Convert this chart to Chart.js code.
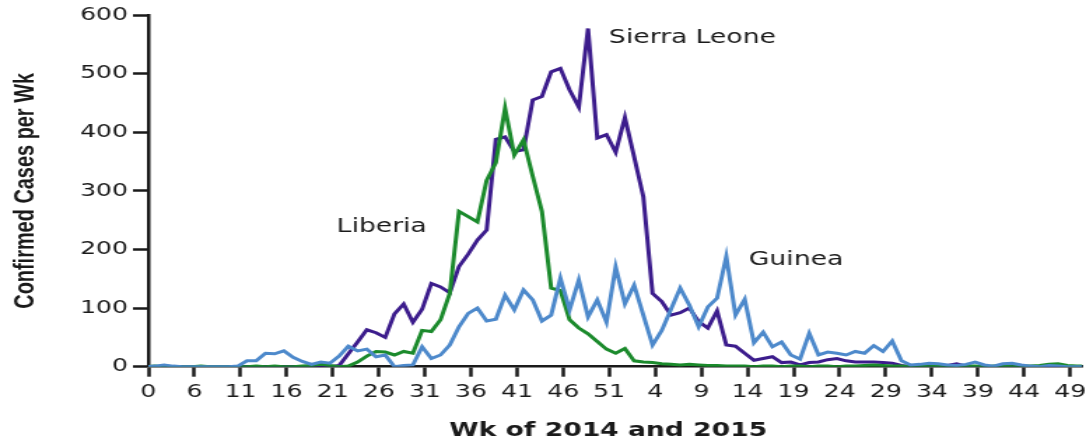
<!DOCTYPE html>
<html><head><meta charset="utf-8">
<script src="https://cdn.jsdelivr.net/npm/chart.js@4.4.1/dist/chart.umd.min.js"></script>
<style>
html,body{margin:0;padding:0;background:#fff;overflow:hidden;}
#wrap{position:absolute;left:0;top:0;width:776px;height:443px;transform:scaleX(1.39948);transform-origin:0 0;}
</style></head><body>
<div id="wrap"><canvas id="c"></canvas></div>
<script>
// Tick labels (week numbers, 2014 then 2015)
const tickLabels = ['0','6','11','16','21','26','31','36','41','46','51','4','9','14','19','24','29','34','39','44','49'];

// Confirmed cases per week, one value per week
const guinea = [
  0,1,3,1,0,0,0,0,0,0,
  1,10,10,23,22,27,16,9,4,8,
  6,18,35,27,30,17,20,0,2,3,
  34,14,20,37,68,91,100,78,81,122,
  97,131,114,78,88,151,97,148,85,114,
  76,170,107,139,88,37,62,98,134,105,
  68,102,117,188,88,115,41,59,34,42,
  20,13,57,20,25,23,20,26,23,36,
  26,44,10,3,4,6,5,3,2,4,
  8,3,1,5,6,3,1,0,2,1,
  0,0,0
];
const sierraLeone = [
  0,0,0,0,0,0,0,0,0,0,
  0,0,0,0,0,0,0,0,0,0,
  0,2,22,42,63,58,50,90,107,76,
  98,142,136,126,171,192,216,233,388,392,
  367,370,455,461,503,509,472,443,577,390,
  396,366,425,358,290,125,111,88,92,100,
  77,66,95,37,35,23,11,14,17,7,
  8,3,7,8,12,14,10,8,8,8,
  7,6,2,0,0,0,1,2,5,1,
  0,0,0,0,0,0,0,0,0,0,
  0,0,0
];
const liberia = [
  0,1,0,0,0,0,1,0,0,0,
  0,0,1,0,1,0,0,1,2,4,
  2,0,1,8,18,26,25,20,26,23,
  62,60,80,125,265,256,247,318,348,441,
  361,387,325,265,134,130,80,66,56,43,
  30,23,31,10,8,7,5,4,3,4,
  3,2,2,1,1,1,0,1,1,0,
  1,1,0,1,1,0,1,1,2,3,
  2,1,1,0,1,0,1,1,0,1,
  1,0,1,1,0,1,1,2,4,5,
  2,1,1
];

const yTitle = 'Confirmed Cases per Wk';
const xTitle = 'Wk of 2014 and 2015';
// Series labels placed in data units (week index, cases)
const seriesLabels = [
  {text:'Sierra Leone', wk:50.27, cases:552},
  {text:'Liberia', wk:20.73, cases:230},
  {text:'Guinea', wk:65.45, cases:173}
];

const X_SHIFT = 0.3;
const X_SPAN = 101.3;
const INK = '#1a1a1a';
const toPts = arr => arr.map((v,k)=>({x:k,y:v}));

const textPlugin = {
  id:'texts',
  afterDatasetsDraw(chart){
    const {ctx, chartArea:a, scales:{x,y}} = chart;
    ctx.save();
    ctx.fillStyle = INK;
    ctx.font = '19px "DejaVu Sans"';
    ctx.textAlign = 'left';
    ctx.textBaseline = 'alphabetic';
    seriesLabels.forEach(l => ctx.fillText(l.text, x.getPixelForValue(l.wk), y.getPixelForValue(l.cases)));
    ctx.font = 'bold 19px "DejaVu Sans"';
    ctx.textAlign = 'center';
    ctx.fillText(xTitle, (a.left + a.right)/2 - 5, 436);
    ctx.translate(18.5, (a.top + a.bottom)/2);
    ctx.rotate(-Math.PI/2);
    ctx.scale(0.83, 0.84);
    ctx.font = 'bold 24px "Liberation Sans", Arial, sans-serif';
    ctx.textBaseline = 'middle';
    ctx.fillText(yTitle, 0, 0);
    ctx.restore();
  }
};

const lineDs = (label, arr, color) => ({
  label, data: toPts(arr), borderColor: color, backgroundColor: color,
  borderWidth: 3, pointRadius: 0, tension: 0, fill: false
});

new Chart(document.getElementById('c'), {
  type: 'line',
  data: { datasets: [
    lineDs('Guinea', guinea, '#4d89cb'),
    lineDs('Liberia', liberia, '#1b8a2c'),
    lineDs('Sierra Leone', sierraLeone, '#3c1c8c')
  ]},
  options: {
    animation: false, responsive: true, maintainAspectRatio: false,
    layout: { padding: { top: 15, right: 2.8, left: 0, bottom: 0 } },
    plugins: { legend: { display: false }, tooltip: { enabled: false } },
    scales: {
      x: {
        type: 'linear', min: X_SHIFT, max: X_SHIFT + X_SPAN,
        afterBuildTicks: s => { s.ticks = tickLabels.map((_, j) => ({ value: X_SHIFT + 5*j })); },
        afterFit: s => { s.height = 76.3; s.paddingLeft = 0; s.paddingRight = 0; },
        ticks: { autoSkip: false, maxRotation: 0, minRotation: 0, padding: 5, color: INK,
                 font: { family: 'DejaVu Sans', size: 18 }, callback: (v, i) => tickLabels[i] },
        grid: { drawOnChartArea: false, drawTicks: true, tickLength: 10, tickColor: INK, tickWidth: 2.5 },
        border: { display: true, color: INK, width: 2.5 }
      },
      y: {
        min: 0, max: 600,
        afterFit: s => { s.width = 106; s.paddingTop = 0; s.paddingBottom = 0; },
        ticks: { stepSize: 100, padding: 3.5, color: INK, font: { family: 'DejaVu Sans', size: 18 } },
        grid: { drawOnChartArea: false, drawTicks: true, tickLength: 11, tickColor: INK, tickWidth: 2.5 },
        border: { display: true, color: INK, width: 2.5 }
      }
    }
  },
  plugins: [textPlugin]
});
</script>
</body></html>
